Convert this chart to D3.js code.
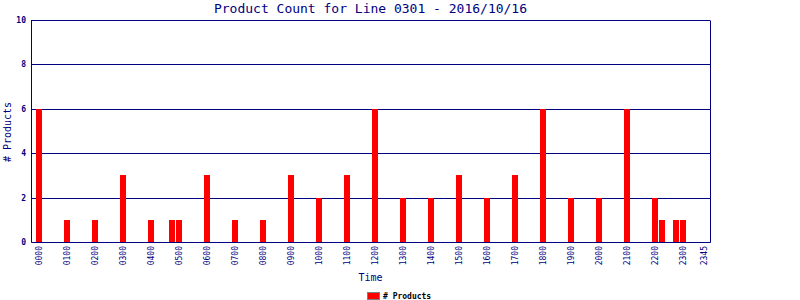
<!DOCTYPE html>
<html>
<head>
<meta charset="utf-8">
<script src="https://cdn.jsdelivr.net/npm/d3@7"></script>
<style>
  body { margin: 0; background: #fff; }
  svg { display: block; }
  text { font-family: "DejaVu Sans Mono", monospace; }
</style>
</head>
<body>
<div id="chart"></div>
<script>
let width = 800;
let height = 300;
let margin = ({ top: 20, right: 90, bottom: 58, left: 31 });

// 15 minute slots, labelled hourly plus the last one
let hours = ["00","01","02","03","04","05","06","07","08","09","10","11",
             "12","13","14","15","16","17","18","19","20","21","22","23"];
let quarters = ["00","15","30","45"];
let slots = [];
hours.forEach(h => quarters.forEach(q => slots.push(h + q)));
let tick_labels = hours.map(h => h + "00").concat(["2345"]);

// slots that had products, and their counts
let active_slots = ["0000","0100","0200","0300","0400","0445","0500","0600","0700","0800",
                    "0900","1000","1100","1200","1300","1400","1500","1600","1700","1800",
                    "1900","2000","2100","2200","2215","2245","2300"];
let product_counts = [6,1,1,3,1,1,1,3,1,1,
                      3,2,3,6,2,2,3,2,3,6,
                      2,2,6,2,1,1,1];
let y_ticks = [0, 2, 4, 6, 8, 10];

let data = active_slots.map((s, i) => ({ slot: s, count: product_counts[i] }));

let navy = "#000080";

let svg = d3.select("#chart").append("svg")
  .attr("width", width)
  .attr("height", height);

let x = d3.scaleBand()
  .domain(slots)
  .range([margin.left + 4.5, width - margin.right - 2.5])
  .paddingInner(0.14)
  .paddingOuter(0.07);

let y = d3.scaleLinear()
  .domain([0, 10])
  .range([height - margin.bottom, margin.top]);

// grid lines
svg.append("g")
  .selectAll("line")
  .data(y_ticks.filter(d => d > 0))
  .enter()
  .append("line")
  .attr("x1", margin.left)
  .attr("x2", width - margin.right)
  .attr("y1", d => Math.round(y(d)) + 0.5)
  .attr("y2", d => Math.round(y(d)) + 0.5)
  .attr("stroke", navy)
  .attr("stroke-width", 1);

// bars
svg.append("g")
  .selectAll("rect")
  .data(data)
  .enter()
  .append("rect")
  .attr("x", d => Math.round(x(d.slot)))
  .attr("y", d => Math.round(y(d.count)))
  .attr("width", 6)
  .attr("height", d => Math.round(y(0)) - Math.round(y(d.count)))
  .attr("fill", "#ff0000");

// frame: left, bottom, right
let x0 = margin.left + 0.5, x1 = width - margin.right + 0.5;
let yb = Math.round(y(0)) + 0.5, yt = Math.round(y(10)) + 0.5;
svg.append("path")
  .attr("d", `M${x0},${yt}V${yb}H${x1}V${yt}`)
  .attr("fill", "none")
  .attr("stroke", navy)
  .attr("stroke-width", 1);

// y axis
let yAxis = d3.axisLeft(y).tickValues(y_ticks).tickSize(0).tickPadding(5);
svg.append("g")
  .attr("transform", `translate(${margin.left},0)`)
  .call(yAxis)
  .call(g => g.select(".domain").remove())
  .selectAll("text")
  .attr("fill", navy)
  .style("font-size", "8px")
  .style("font-weight", "bold")
  .style("font-family", "DejaVu Sans Mono");

// x axis
let xAxis = d3.axisBottom(x).tickValues(tick_labels).tickSize(0);
svg.append("g")
  .attr("transform", `translate(0,${height - margin.bottom})`)
  .call(xAxis)
  .call(g => g.select(".domain").remove())
  .selectAll("text")
  .attr("fill", navy)
  .attr("transform", "rotate(-90)")
  .attr("text-anchor", "end")
  .attr("x", -4)
  .attr("y", 0)
  .attr("dy", "0.33em")
  .style("font-size", "8px")
  .style("font-family", "DejaVu Sans Mono");

// title
svg.append("text")
  .attr("x", (margin.left + width - margin.right) / 2)
  .attr("y", 13)
  .attr("text-anchor", "middle")
  .attr("fill", navy)
  .style("font-size", "13px")
  .text("Product Count for Line 0301 - 2016/10/16");

// axis titles
svg.append("text")
  .attr("x", (margin.left + width - margin.right) / 2)
  .attr("y", 281)
  .attr("text-anchor", "middle")
  .attr("fill", navy)
  .style("font-size", "10px")
  .text("Time");

svg.append("text")
  .attr("transform", "translate(11,132) rotate(-90)")
  .attr("text-anchor", "middle")
  .attr("fill", navy)
  .style("font-size", "10px")
  .text("# Products");

// legend
let legend = svg.append("g").attr("transform", "translate(367,292)");
legend.append("rect")
  .attr("x", 0.5).attr("y", 0.5)
  .attr("width", 12).attr("height", 7)
  .attr("fill", "#ff0000")
  .attr("stroke", "#808080");
legend.append("text")
  .attr("x", 16)
  .attr("y", 7)
  .attr("fill", "#000")
  .style("font-size", "8px")
  .style("font-weight", "bold")
  .text("# Products");
</script>
</body>
</html>
